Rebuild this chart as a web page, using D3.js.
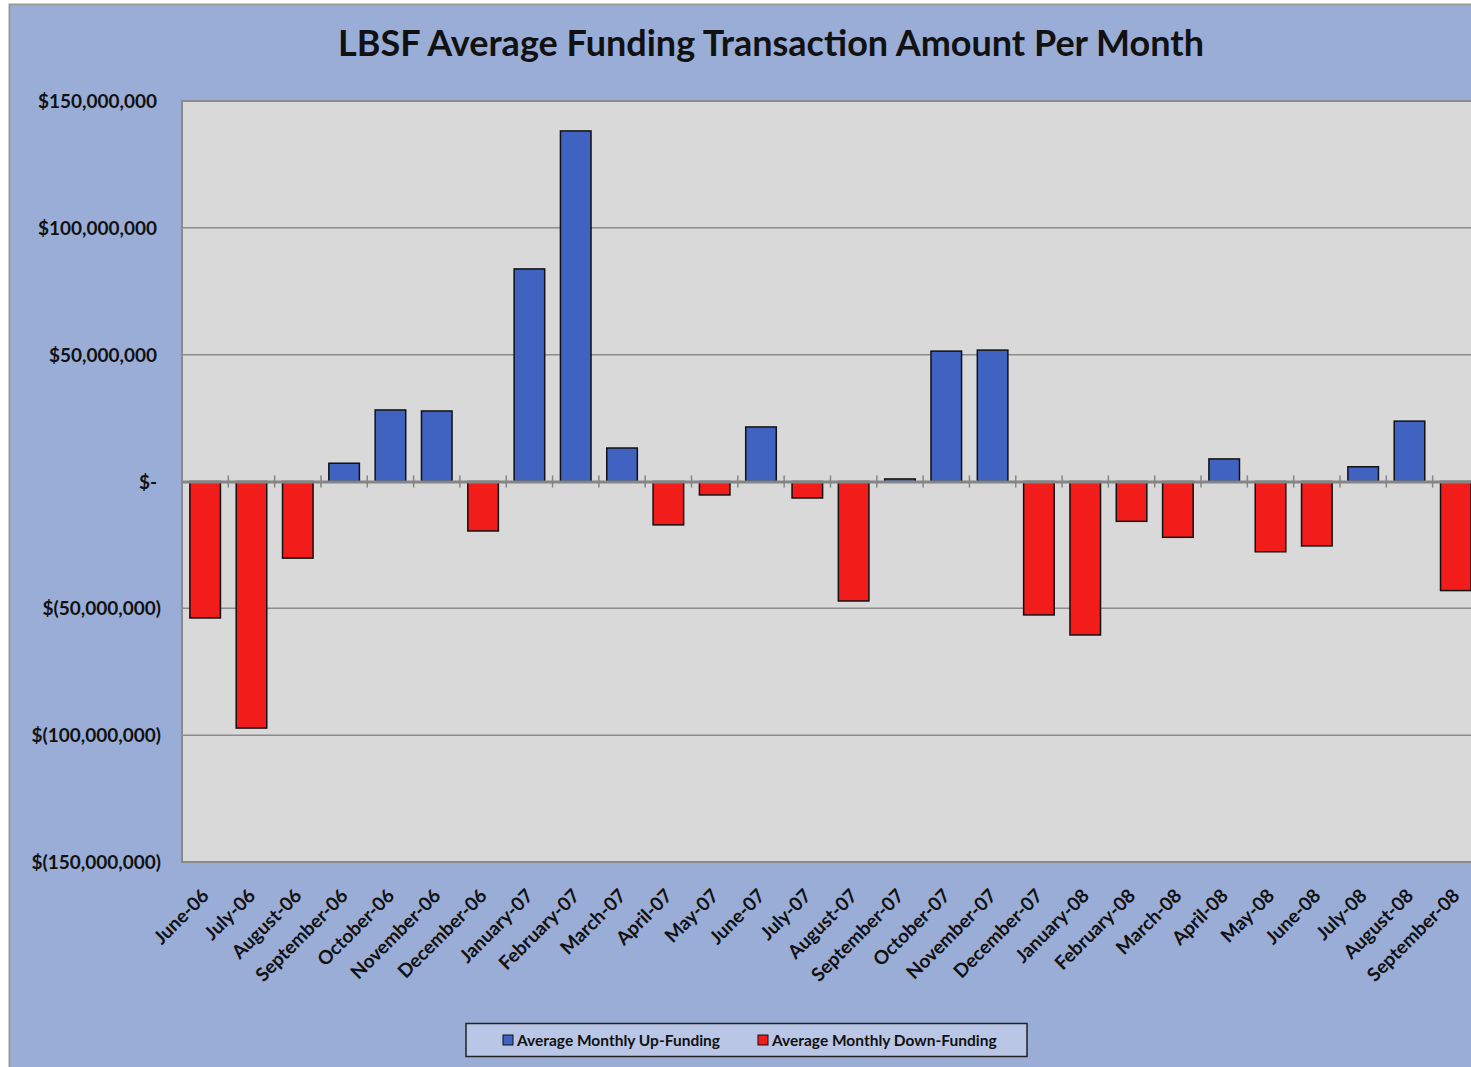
<!DOCTYPE html>
<html>
<head>
<meta charset="utf-8">
<script src="https://cdn.jsdelivr.net/npm/d3@7"></script>
<style>
  body { margin: 0; background: #fff; }
  svg text { font-family: Lato, "Open Sans", sans-serif; font-weight: bold; fill: #111; }
</style>
</head>
<body>
<div class="chart-area"></div>
<script>
var months = [
  "June-06", "July-06", "August-06", "September-06", "October-06", "November-06",
  "December-06", "January-07", "February-07", "March-07", "April-07", "May-07",
  "June-07", "July-07", "August-07", "September-07", "October-07", "November-07",
  "December-07", "January-08", "February-08", "March-08", "April-08", "May-08",
  "June-08", "July-08", "August-08", "September-08"
]

// millions of dollars, null where the month has no bar in that series
var upFunding = [
  null, null, null, 7.2, 28.2, 27.8,
  null, 83.8, 138.2, 13.2, null, null,
  21.5, null, null, 1, 51.4, 51.8,
  null, null, null, null, 8.9, null,
  null, 5.8, 23.8, null
]
var downFunding = [
  -53.8, -97.2, -30.2, null, null, null,
  -19.5, null, null, null, -17.1, -5.3,
  null, -6.5, -47.1, null, null, null,
  -52.6, -60.5, -15.7, -22, null, -27.7,
  -25.4, null, null, -43
]

var yTicks = [150, 100, 50, 0, -50, -100, -150]
var yTickLabels = [
  "$150,000,000", "$100,000,000", "$50,000,000", "$-",
  "$(50,000,000)", "$(100,000,000)", "$(150,000,000)"
]

var seriesNames = ["Average Monthly Up-Funding", "Average Monthly Down-Funding"]

var width = 1471,
    height = 1067,
    plotLeft = 182,
    plotTop = 101,
    plotBottom = 862,
    plotRight = 182 + 28 * 46.32,
    svg = d3.select(".chart-area")
            .append("svg")
            .attr("width", width)
            .attr("height", height);

// outer chart frame
svg.append("rect")
   .attr("x", 9.5).attr("y", 4.5)
   .attr("width", width).attr("height", height)
   .attr("fill", "#9aadd6")
   .attr("stroke", "#9a9a9a")
   .attr("stroke-width", 2);

svg.append("text")
   .attr("x", 771)
   .attr("y", 56)
   .attr("text-anchor", "middle")
   .style("font-size", "36px")
   .text("LBSF Average Funding Transaction Amount Per Month");

var x = d3.scaleBand()
          .domain(months)
          .range([plotLeft, plotRight])
          .paddingInner(0.34)
          .paddingOuter(0.17);

var y = d3.scaleLinear()
          .domain([-150, 150])
          .range([plotBottom, plotTop]);

// plot area
svg.append("rect")
   .attr("x", plotLeft)
   .attr("y", plotTop)
   .attr("width", plotRight - plotLeft)
   .attr("height", plotBottom - plotTop)
   .attr("fill", "#d9d9d9")
   .attr("stroke", "#8a8a8a")
   .attr("stroke-width", 2);

// gridlines
svg.selectAll(".grid")
   .data(yTicks.filter(function(d) { return d !== 0 && Math.abs(d) !== 150 }))
   .enter()
   .append("line")
   .attr("class", "grid")
   .attr("x1", plotLeft)
   .attr("x2", plotRight)
   .attr("y1", function(d) { return y(d) })
   .attr("y2", function(d) { return y(d) })
   .attr("stroke", "#8c8c8c")
   .attr("stroke-width", 1.5);

// y axis labels
var yAxis = d3.axisLeft(y)
              .tickValues(yTicks)
              .tickSize(0)
              .tickPadding(0)
              .tickFormat(function(d, i) { return yTickLabels[i] });

var yg = svg.append("g")
            .attr("transform", "translate(157,0)")
            .call(yAxis);
yg.select(".domain").remove();
yg.selectAll("text")
  .style("font-size", "19px")
  .attr("dy", "0.35em")
  .attr("x", function(d) { return d < 0 ? 4 : 0 });

function drawBars(values, cls, color) {
  svg.selectAll("." + cls)
     .data(values.map(function(v, i) { return { month: months[i], value: v } })
                 .filter(function(d) { return d.value !== null }))
     .enter()
     .append("rect")
     .attr("class", cls)
     .attr("x", function(d) { return x(d.month) })
     .attr("width", x.bandwidth())
     .attr("y", function(d) { return y(Math.max(0, d.value)) })
     .attr("height", function(d) { return Math.abs(y(d.value) - y(0)) })
     .attr("fill", color)
     .attr("stroke", "#111")
     .attr("stroke-width", 1.5);
}

drawBars(upFunding, "up", "#4062c0");
drawBars(downFunding, "down", "#f21c1a");

// zero axis with tick marks between categories
var xAxis = d3.axisBottom(x).tickSize(0).tickFormat("");
var xg = svg.append("g")
            .attr("transform", "translate(0," + y(0) + ")")
            .call(xAxis);
xg.select(".domain")
  .attr("stroke", "#858585")
  .attr("stroke-width", 3);

svg.selectAll(".xtick")
   .data(months.slice(1))
   .enter()
   .append("line")
   .attr("class", "xtick")
   .attr("x1", function(d) { return x(d) - x.step() * x.paddingInner() / 2 })
   .attr("x2", function(d) { return x(d) - x.step() * x.paddingInner() / 2 })
   .attr("y1", y(0) - 6)
   .attr("y2", y(0) + 6)
   .attr("stroke", "#858585")
   .attr("stroke-width", 1.5);

// rotated month labels
svg.selectAll(".month")
   .data(months)
   .enter()
   .append("text")
   .attr("class", "month")
   .attr("text-anchor", "end")
   .style("font-size", "19px")
   .attr("transform", function(d) {
     return "translate(" + (x(d) + x.bandwidth() / 2 + 5) + "," + (plotBottom + 35) + ") rotate(-45)"
   })
   .text(function(d) { return d });

// legend
var legend = svg.append("g");
legend.append("rect")
      .attr("x", 466).attr("y", 1023.5)
      .attr("width", 561).attr("height", 33)
      .attr("fill", "#b9c6e5")
      .attr("stroke", "#222")
      .attr("stroke-width", 1.5);

var legendX = [503, 758],
    legendColors = ["#4062c0", "#f21c1a"];

legend.selectAll(".key")
      .data(seriesNames)
      .enter()
      .append("rect")
      .attr("class", "key")
      .attr("x", function(d, i) { return legendX[i] })
      .attr("y", 1035)
      .attr("width", 10)
      .attr("height", 10)
      .attr("fill", function(d, i) { return legendColors[i] })
      .attr("stroke", "#111")
      .attr("stroke-width", 1);

legend.selectAll(".name")
      .data(seriesNames)
      .enter()
      .append("text")
      .attr("class", "name")
      .attr("x", function(d, i) { return legendX[i] + 14 })
      .attr("y", 1045.5)
      .style("font-size", "15.5px")
      .text(function(d) { return d });
</script>
</body>
</html>
